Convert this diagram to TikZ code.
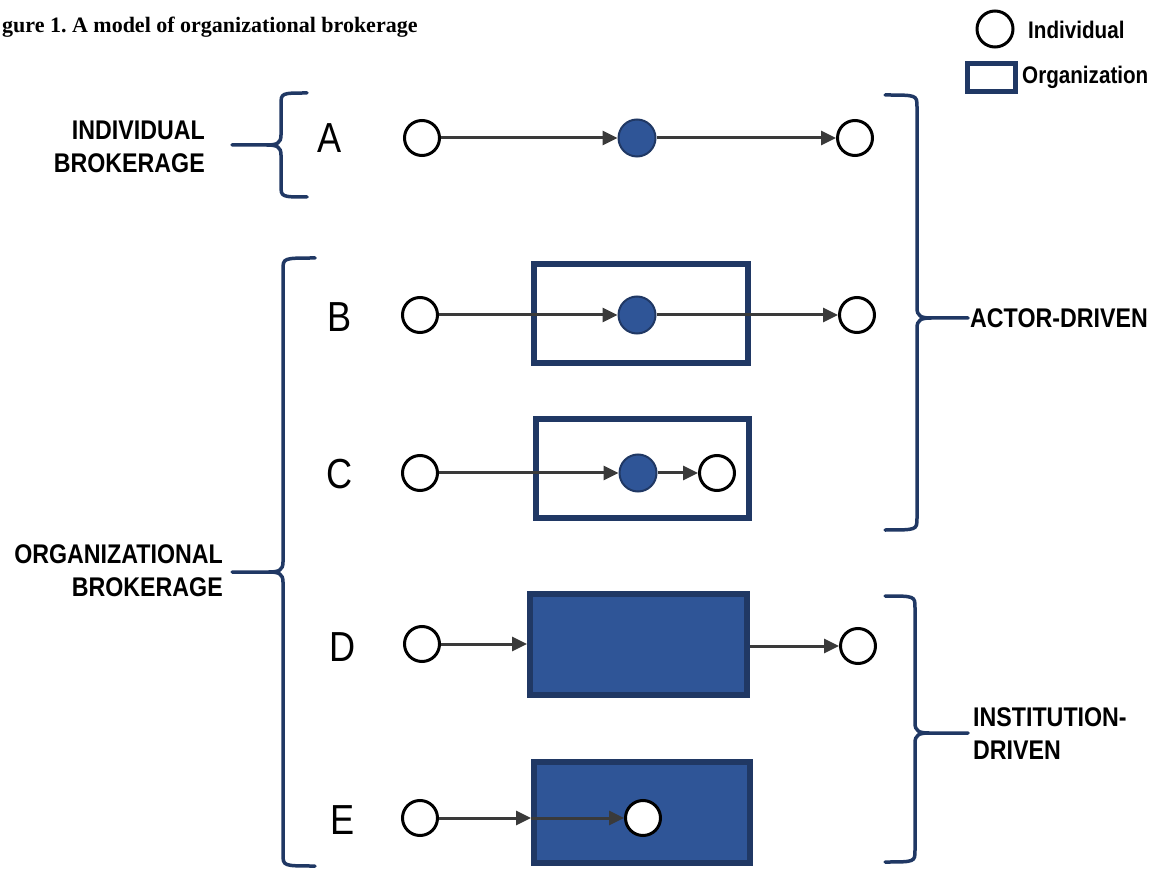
\documentclass[tikz,border=0pt]{standalone}
\usepackage{fontspec}
\setmainfont{Liberation Sans}
\newfontfamily\labfont[FakeStretch=0.86]{Liberation Sans}
\newfontfamily\titlefont{Liberation Serif}
\usetikzlibrary{arrows.meta}
\definecolor{navy}{HTML}{203864}
\definecolor{bluefill}{HTML}{2F5597}
\definecolor{arrgray}{HTML}{3A3A3A}
\frenchspacing
\newcommand{\mybrace}[7]{%
 \draw[bracestyle] ({#1},{#4}) .. controls ({#2},{#4}) .. ({#2},{#4+12}) -- ({#2},{#5-10}) .. controls ({#2},{#5-2}) and ({#2-(#7)*4},{#5}) .. ({#2-(#7)*14},{#5}) -- ({#3},{#5});
 \draw[bracestyle] ({#2-(#7)*14},{#5}) .. controls ({#2-(#7)*4},{#5}) and ({#2},{#5+2}) .. ({#2},{#5+10}) -- ({#2},{#6-12}) .. controls ({#2},{#6}) .. ({#1},{#6});
}
\begin{document}
\begin{tikzpicture}[x=1pt,y=-1pt,
  indiv/.style={circle,draw=black,line width=3pt,fill=white,minimum size=35pt,inner sep=0pt},
  broker/.style={circle,draw=navy,line width=2pt,fill=bluefill,minimum size=37pt,inner sep=0pt},
  orgbox/.style={rectangle,draw=navy,line width=6pt,inner sep=0pt},
  orgfill/.style={orgbox,fill=bluefill},
  arr/.style={draw=arrgray,line width=3pt,-{Triangle[length=15pt,width=14pt]}},
  bracestyle/.style={draw=navy,line width=3.5pt,line cap=round},
  lbl/.style={font=\labfont\bfseries\fontsize{27}{33}\selectfont,inner sep=0pt},
  legtext/.style={font=\labfont\bfseries\fontsize{24}{28}\selectfont,inner sep=0pt,anchor=west},
  letter/.style={font=\labfont\fontsize{42}{42}\selectfont,inner sep=0pt}]
\useasboundingbox (0,0) rectangle (1160,874);

% title
\node[font=\titlefont\bfseries\fontsize{22}{26}\selectfont,anchor=base west,inner sep=0pt] (title) at (2,33) {gure 1. A model of organizational brokerage};

% legend
\node[circle,draw=black,line width=3pt,minimum size=36pt,inner sep=0pt] (legc) at (995,29) {};
\node[legtext] (legct) at (1028,30) {Individual};
\node[orgbox,line width=5pt,minimum width=48pt,minimum height=28pt] (legr) at (991.5,77.5) {};
\node[legtext] (legrt) at (1022,77) {Organization};

% letters
\node[letter] (la) at (330,138) {A};
\node[letter] (lb) at (340,317) {B};
\node[letter] (lc) at (340,474) {C};
\node[letter] (ld) at (343,647) {D};
\node[letter] (le) at (343,820) {E};

% side labels
\node[lbl,align=right,anchor=east] (indb) at (205,146.5) {INDIVIDUAL\\BROKERAGE};
\node[lbl,align=right,anchor=east] (orgb) at (223,570.5) {ORGANIZATIONAL\\BROKERAGE};
\node[lbl,anchor=west] (actor) at (970,318) {ACTOR-DRIVEN};
\node[lbl,align=left,anchor=west] (inst) at (973,734) {INSTITUTION-\\DRIVEN};

% braces
\mybrace{307}{281}{232}{93}{145}{197}{1}
\mybrace{315}{283}{232}{258}{572}{866}{1}
\mybrace{885}{917}{968}{95}{318}{530}{-1}
\mybrace{885}{915}{968}{596}{733}{862}{-1}

% boxes
\node[orgbox,minimum width=214pt,minimum height=99pt] (bbox) at (641,313.5) {};
\node[orgbox,minimum width=213pt,minimum height=99pt] (cbox) at (642.5,468.5) {};
\node[orgfill,minimum width=217pt,minimum height=101pt] (dbox) at (638.5,644) {};
\node[orgfill,minimum width=216pt,minimum height=101pt] (ebox) at (642,812.5) {};

% row A
\node[indiv] (a1) at (422,138) {};
\node[broker] (a2) at (637,138) {};
\node[indiv] (a3) at (855,138) {};
% row B
\node[indiv] (b1) at (420,315) {};
\node[broker] (b2) at (637,315) {};
\node[indiv] (b3) at (857,315) {};
% row C
\node[indiv] (c1) at (420,473) {};
\node[broker] (c2) at (638,473) {};
\node[indiv] (c3) at (717,473) {};
% row D
\node[indiv] (d1) at (422,644) {};
\node[indiv] (d2) at (858,646) {};
% row E
\node[indiv] (e1) at (420,818) {};
\node[indiv] (e2) at (643,818) {};
\coordinate (ein) at (e1 -| ebox.west);
\coordinate (dout) at (d2 -| dbox.east);

% connectors
\draw[arr] (a1) -- (a2);
\draw[arr] (a2) -- (a3);
\draw[arr] (b1) -- (b2);
\draw[arr] (b2) -- (b3);
\draw[arr] (c1) -- (c2);
\draw[arr] (c2) -- (c3);
\draw[arr] (d1) -- (dbox);
\draw[arr] (dout) -- (d2);
\draw[arr] (e1) -- (ein);
\draw[arr] (ein) -- (e2);
\end{tikzpicture}
\end{document}
